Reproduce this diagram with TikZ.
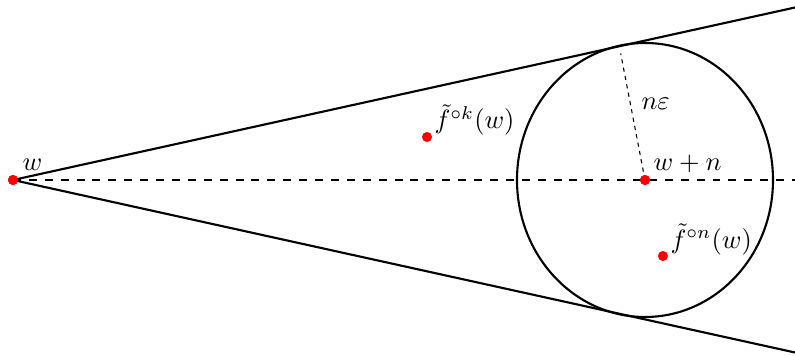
\documentclass[tikz,border=0pt]{standalone}
\begin{document}
\begin{tikzpicture}[x=0.3774pt,y=-0.3774pt,
  bound/.style={line width=0.8pt},
  axisline/.style={dashed,line width=0.4pt},
  radline/.style={dash pattern=on 1.6pt off 1.6pt,line width=0.4pt},
  pt/.style={circle,fill=red,draw=none,inner sep=0pt,minimum size=3.8pt},
  lab/.style={inner sep=0pt,anchor=base west}]
\useasboundingbox (0,0) rectangle (795,356);
\coordinate (c) at (645,180);
\coordinate (up) at (795,7.5);
\coordinate (lo) at (795,352.5);
\coordinate (ax) at (795,180);
\coordinate (rad) at (620.7,53.5);
\draw[bound] (c) ellipse [x radius=128, y radius=137];
\node[pt] (w) at (13,180) {};
\node[pt] (wn) at (645,180) {};
\node[pt] (fk) at (427,137) {};
\node[pt] (fn) at (663,256) {};
\draw[bound] (w.center) -- (up);
\draw[bound] (w.center) -- (lo);
\draw[axisline] (w.center) -- (ax);
\draw[radline] (wn.center) -- (rad);
\node[pt] at (w) {};
\node[pt] at (wn) {};
\node[lab] (lw) at (22,171) {$w$};
\node[lab] (lwn) at (653,171) {$w+n$};
\node[lab] (lne) at (641,110) {$n\varepsilon$};
\node[lab] (lfk) at (434,129) {$\tilde f^{\circ k}(w)$};
\node[lab] (lfn) at (670,248) {$\tilde f^{\circ n}(w)$};
\end{tikzpicture}
\end{document}
